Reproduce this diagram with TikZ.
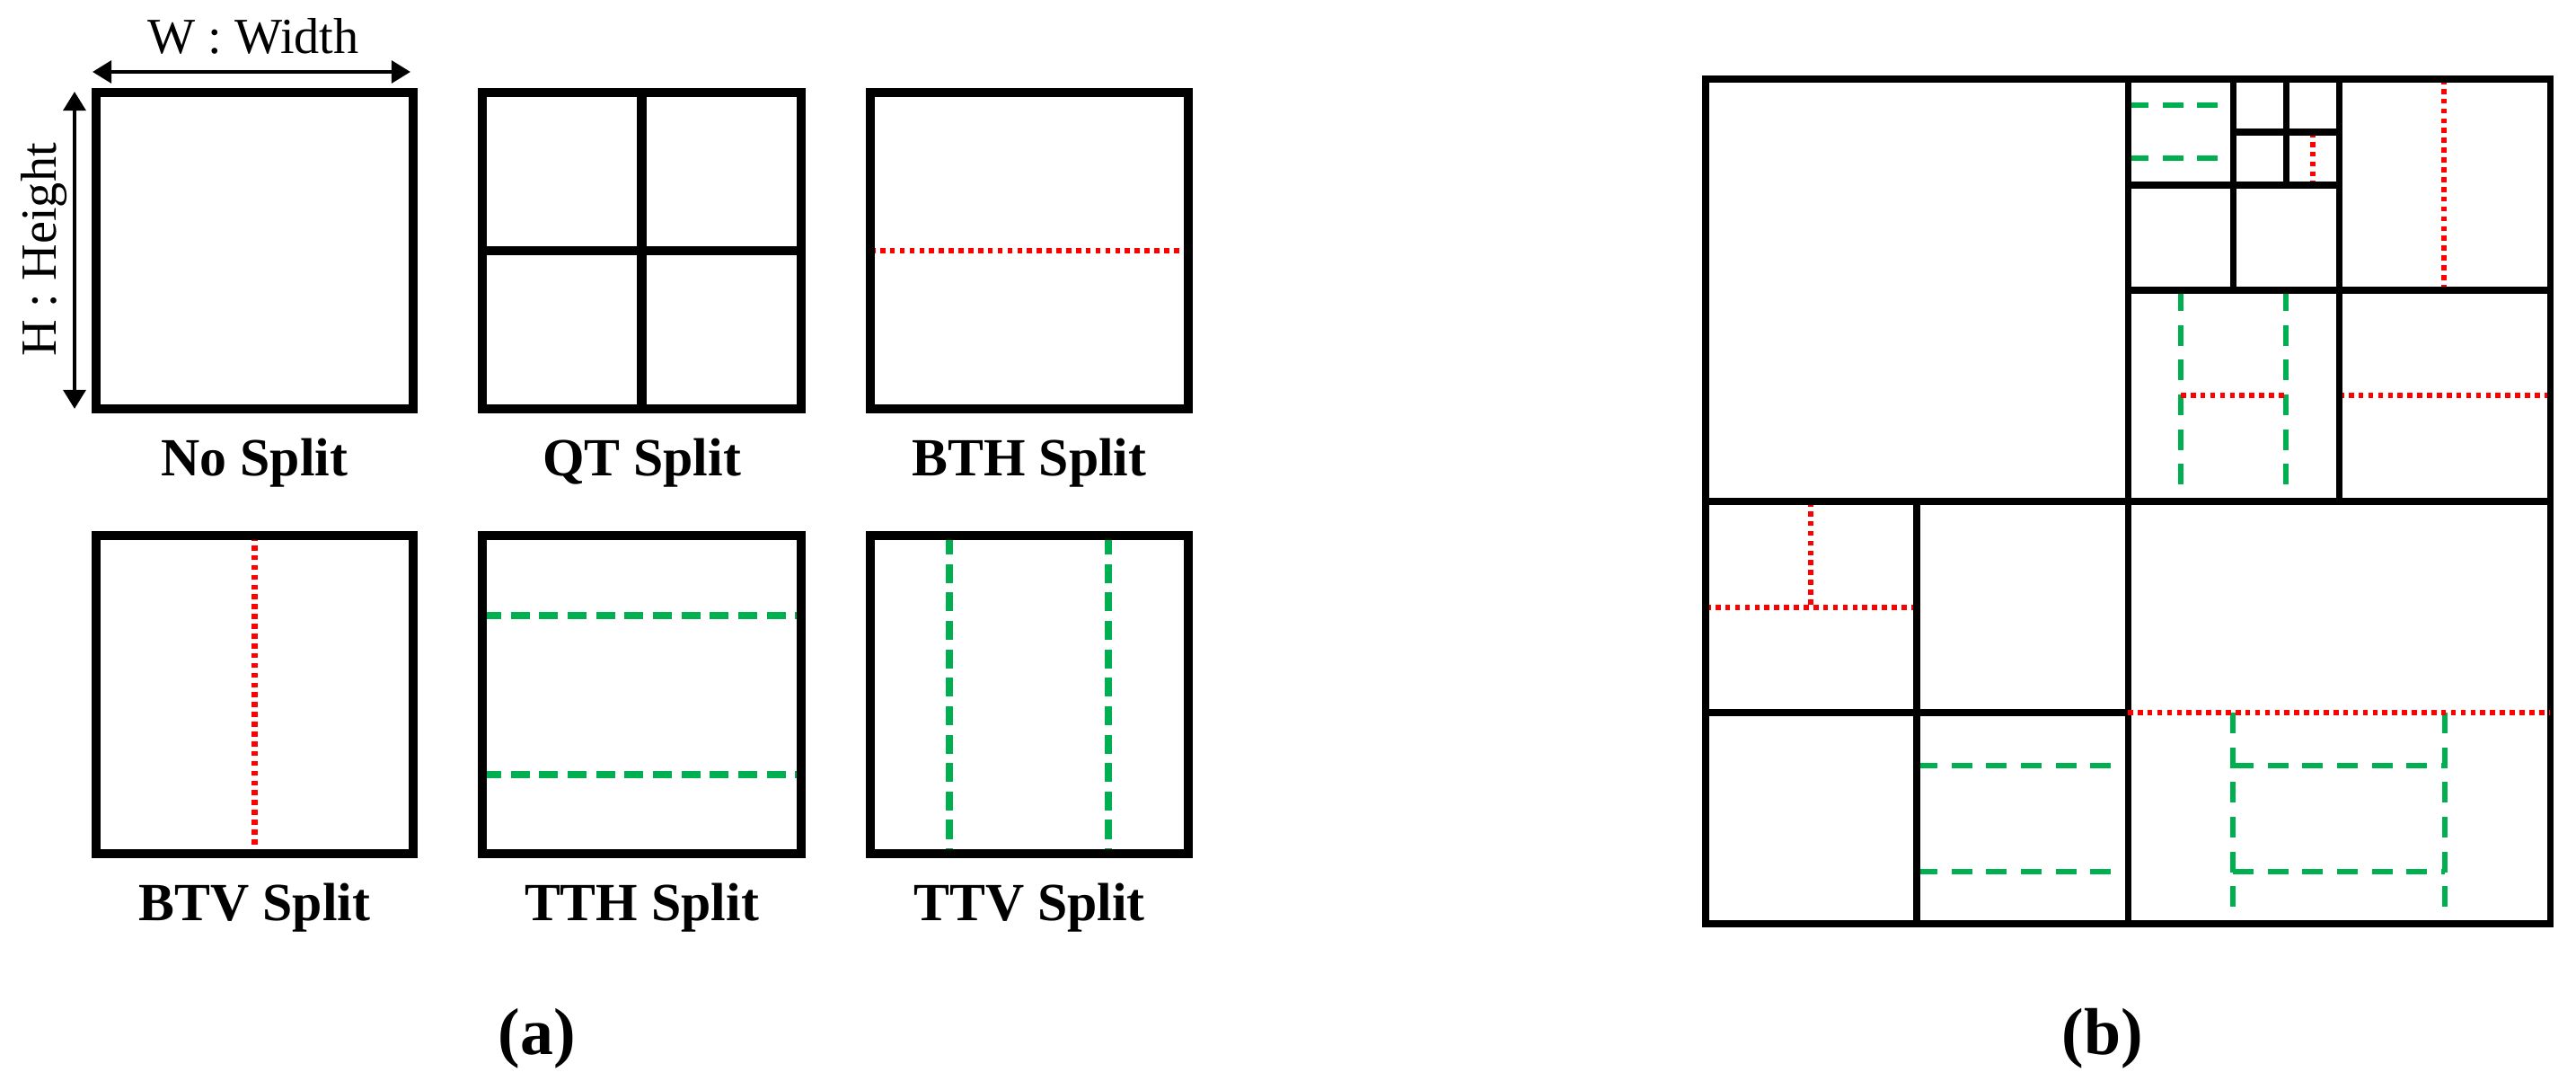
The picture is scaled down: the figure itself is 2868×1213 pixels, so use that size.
\documentclass[tikz,border=0pt]{standalone}
\usepackage{fontspec}
\setmainfont{Liberation Serif}
\usetikzlibrary{arrows.meta}
\definecolor{gsplit}{RGB}{0,176,80}
\tikzset{
 boxa/.style={line width=2.9pt},
 linb/.style={line width=2pt},
 reddot/.style={red,line width=1.8pt,dash pattern=on 1.6pt off 1.5pt},
 greendash/.style={gsplit,line width=2pt,dash pattern=on 6pt off 3pt},
 greendashb/.style={gsplit,line width=1.9pt,dash pattern=on 6.5pt off 4.5pt},
 lbl/.style={font=\fontsize{17}{20}\selectfont\bfseries,anchor=base},
 captxt/.style={font=\fontsize{21}{24}\selectfont\bfseries},
 dimtxt/.style={font=\fontsize{16}{19}\selectfont,anchor=base},
 dimarr/.style={line width=1.3pt,{Triangle[length=6pt,width=7pt]}-{Triangle[length=6pt,width=7pt]}}
}
\begin{document}
\begin{tikzpicture}[x=0.01cm,y=-0.01cm]
\useasboundingbox (0,0) rectangle (2868,1213);
% panel (a) row 1
\draw[boxa] (107,103) rectangle (460,455);
\draw[boxa] (537,103) rectangle (892,455);
\draw[boxa] (714.5,103) -- (714.5,455) (537,279) -- (892,279);
\draw[reddot] (969,279) -- (1323,279);
\draw[boxa] (969,103) rectangle (1323,455);
% row 2
\draw[reddot] (283.5,596) -- (283.5,950);
\draw[boxa] (107,596) rectangle (460,950);
\draw[greendash] (537,685) -- (892,685) (537,862) -- (892,862);
\draw[boxa] (537,596) rectangle (892,950);
\draw[greendash] (1057,596) -- (1057,950) (1234,596) -- (1234,950);
\draw[boxa] (969,596) rectangle (1323,950);
% dimensions
\coordinate (wl) at (103,80); \coordinate (wr) at (457,80);
\coordinate (ht) at (83,102); \coordinate (hb) at (83,455);
\draw[dimarr] (wl) -- (wr);
\draw[dimarr] (ht) -- (hb);
\node[dimtxt] (wt) at (282,60) {W : Width};
\node[dimtxt,rotate=90] (hh) at (62,278) {H : Height};
% labels
\node[lbl] (l1) at (283.5,530) {No Split};
\node[lbl] (l2) at (714.5,530) {QT Split};
\node[lbl] (l3) at (1146,530) {BTH Split};
\node[lbl] (l4) at (283.5,1025) {BTV Split};
\node[lbl] (l5) at (714.5,1025) {TTH Split};
\node[lbl] (l6) at (1146,1025) {TTV Split};
\node[captxt] (ca) at (598,1156) {(a)};
\node[captxt] (cb) at (2341,1156) {(b)};
% panel (b) splits
\draw[greendashb] (2369,117) -- (2486,117) (2369,176) -- (2486,176);
\draw[reddot] (2575,147) -- (2575,206);
\draw[reddot] (2721,88) -- (2721,323);
\draw[greendashb] (2428,323) -- (2428,558) (2545,323) -- (2545,558);
\draw[reddot] (2428,440) -- (2545,440);
\draw[reddot] (2604,440) -- (2839,440);
\draw[reddot] (2016,558) -- (2016,676);
\draw[reddot] (1899,676) -- (2134,676);
\draw[greendashb] (2134,852) -- (2369,852) (2134,970) -- (2369,970);
\draw[greendashb] (2486,793) -- (2486,1028) (2722,793) -- (2722,1028);
\draw[greendashb] (2486,852) -- (2722,852) (2486,970) -- (2722,970);
% panel (b) black grid
\draw[linb] (1899,88) rectangle (2839,1028);
\draw[linb] (2369,88) -- (2369,1028) (1899,558) -- (2839,558);
\draw[linb] (2604,88) -- (2604,558) (2369,323) -- (2839,323);
\draw[linb] (2486,88) -- (2486,323) (2369,206) -- (2604,206);
\draw[linb] (2545,88) -- (2545,206) (2486,147) -- (2604,147);
\draw[linb] (2134,558) -- (2134,1028) (1899,793) -- (2369,793);
\draw[reddot] (2369,793) -- (2839,793);
\end{tikzpicture}
\end{document}
